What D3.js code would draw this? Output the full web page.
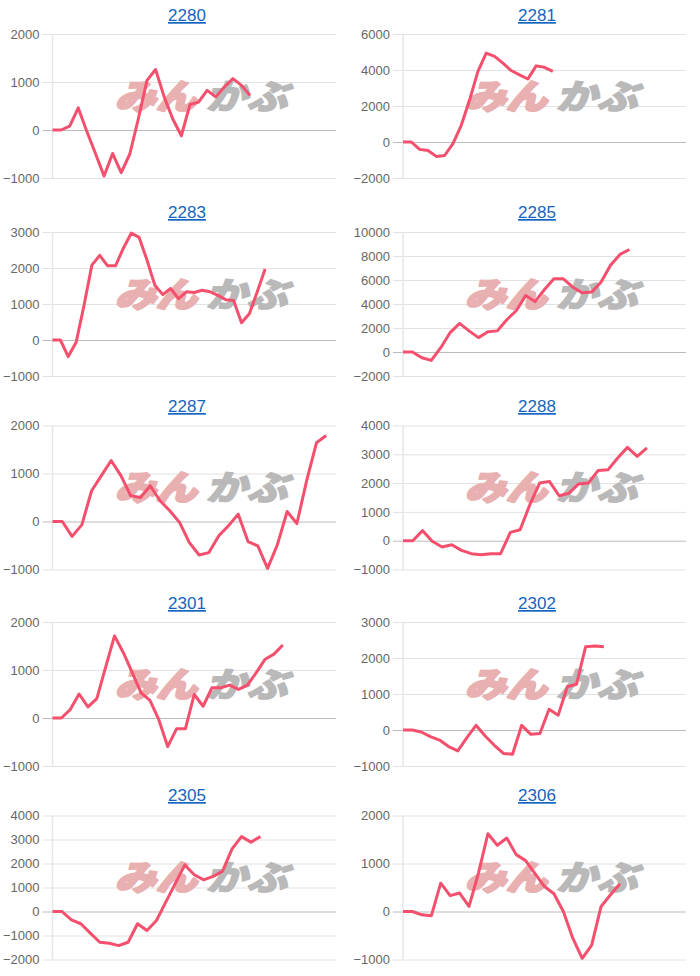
<!DOCTYPE html>
<html><head><meta charset="utf-8">
<script src="https://cdn.jsdelivr.net/npm/d3@7"></script>
<style>body{margin:0;background:#fff;} svg{display:block;}</style>
</head><body>
<svg id="c" width="700" height="976"></svg>
<script>
const codes = ["2280","2281","2283","2285","2287","2288","2301","2302","2305","2306"];
const slotCounts = [34,35,37,31,30,30,33,32,31,31];
const yMins = [-1000,-2000,-1000,-2000,-1000,-1000,-1000,-1000,-2000,-1000];
const yMaxs = [2000,6000,3000,10000,2000,4000,2000,3000,4000,2000];
const yTickSteps = [1000,2000,1000,2000,1000,1000,1000,1000,1000,1000];

const v2280 = [0,0,80,460,-30,-490,-960,-490,-890,-500,240,1035,1260,690,230,-120,530,580,825,690,895,1070,930,720];
const v2281 = [0,0,-410,-470,-800,-750,-90,930,2330,3920,4940,4760,4380,3970,3730,3500,4230,4150,3920];
const v2283 = [0,0,-460,-65,960,2080,2350,2060,2060,2550,2970,2850,2220,1520,1260,1430,1150,1340,1320,1380,1340,1240,1120,1100,480,730,1340,1970];
const v2285 = [0,0,-480,-700,360,1620,2380,1760,1200,1680,1760,2690,3440,4700,4200,5210,6100,6100,5400,4930,4990,5830,7230,8130,8540];
const v2287 = [0,0,-310,-70,640,955,1270,955,537,500,745,432,223,-20,-440,-697,-648,-300,-90,153,-418,-509,-976,-488,209,-42,850,1640,1790];
const v2288 = [0,0,350,-20,-220,-140,-335,-450,-485,-450,-450,290,380,1250,2000,2060,1560,1650,1970,2000,2440,2460,2870,3240,2930,3220];
const v2301 = [0,0,175,500,230,405,1060,1710,1360,945,525,365,-35,-595,-225,-225,490,245,630,630,685,595,685,945,1225,1330,1520];
const v2302 = [0,0,-55,-185,-280,-460,-580,-210,130,-165,-425,-650,-675,130,-120,-95,575,410,1200,1270,2310,2330,2310];
const v2305 = [0,0,-350,-510,-900,-1280,-1320,-1420,-1280,-510,-790,-375,400,1170,1940,1530,1320,1460,1680,2610,3120,2890,3120];
const v2306 = [0,0,-70,-90,590,330,385,105,800,1620,1380,1530,1185,1060,790,520,370,0,-555,-975,-700,105,350,580];
const seriesList = [v2280,v2281,v2283,v2285,v2287,v2288,v2301,v2302,v2305,v2306];

const svg = d3.select("#c");
const colLeft = [0, 350];
const rowPlotTop = [34, 232, 425.5, 622, 815.5];
const rowTitleY = [15, 212, 406, 603, 795];
const axisOffset = [52.5, 53];
const plotRight = [336, 686];
const plotH = 144;
const tickLen = 10;

codes.forEach((code, i) => {
  const col = i % 2, row = Math.floor(i / 2);
  const x0 = colLeft[col] + axisOffset[col];
  const x1 = plotRight[col];
  const top = rowPlotTop[row];
  const g = svg.append("g");
  const x = d3.scaleLinear().domain([0, slotCounts[i] - 1]).range([x0, x1]);
  const y = d3.scaleLinear().domain([yMins[i], yMaxs[i]]).range([top + plotH, top]);
  const ticks = d3.range(yMins[i], yMaxs[i] + 1, yTickSteps[i]);

  const yAxis = d3.axisLeft(y).tickValues(ticks).tickSize(0).tickPadding(tickLen + 3).tickFormat(d3.format("d"));
  const ag = g.append("g").attr("transform", `translate(${x0},0)`).call(yAxis);
  ag.select(".domain").remove();
  ag.selectAll(".tick line").attr("x1", -tickLen).attr("x2", x1 - x0)
    .attr("stroke", d => d === 0 ? "#bcbcbc" : "#e2e2e2").attr("stroke-width", 1);
  ag.selectAll(".tick text").attr("fill", "#666").style("font-family", "'Liberation Sans', Arial, sans-serif").style("font-size", "13px");
  g.append("line").attr("x1", x0).attr("x2", x0).attr("y1", top).attr("y2", top + plotH)
    .attr("stroke", "#e6e6e6").attr("stroke-width", 1.5);

  g.append("text").attr("x", colLeft[col] + 187).attr("y", rowTitleY[row] + 6)
    .attr("text-anchor", "middle").attr("fill", "#1565c0")
    .style("font-family", "'Liberation Sans', Arial, sans-serif").style("font-size", "17px")
    .style("text-decoration", "underline").text(code);

  const wm = g.append("g").attr("transform", `translate(${colLeft[col] + 205},${top + 62}) skewX(-16) scale(1.08,0.9)`)
    .style("font-family", "'Noto Sans CJK JP', sans-serif").style("font-weight", 900).style("font-size", "38px");
  wm.append("text").attr("x", -4).attr("y", 14).attr("text-anchor", "end")
    .attr("fill", "#e8b0b0").attr("stroke", "#e8b0b0").attr("stroke-width", 2.5).attr("stroke-linejoin", "round").text("みん");
  wm.append("text").attr("x", 4).attr("y", 14).attr("text-anchor", "start")
    .attr("fill", "#b9b9b9").attr("stroke", "#b9b9b9").attr("stroke-width", 1.5).attr("stroke-linejoin", "round").text("かぶ");

  const line = d3.line().x((d, k) => x(k)).y(d => y(d));
  g.append("path").datum(seriesList[i]).attr("d", line).attr("fill", "none")
    .attr("stroke", "#f4506e").attr("stroke-width", 3).attr("stroke-linejoin", "round");
});
</script>
</body></html>
